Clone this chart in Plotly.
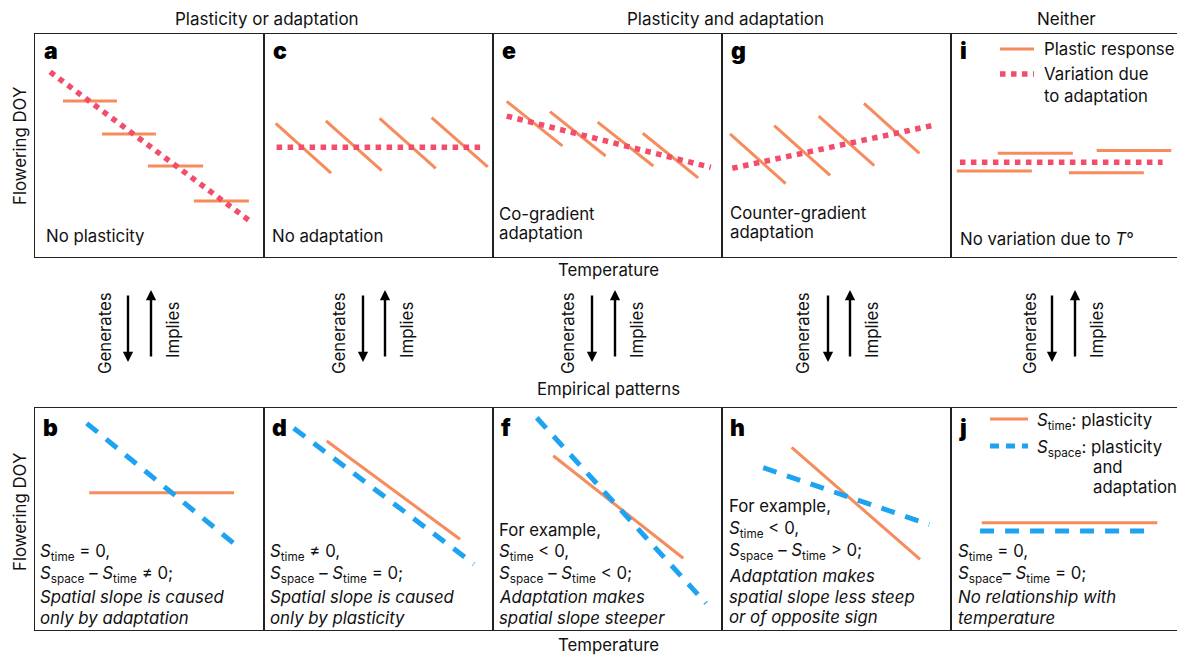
import plotly.graph_objects as go

# page body has an 8px margin: the figure is drawn 8px in from the window edge
OFF = 8
W, H = 1185 - OFF, 657 - OFF
ORANGE = "#F68B5B"
RED = "#F24D6B"
BLUE = "#1EA3F0"
FONT = "Inter"
FS = 16.8

# ---------------- data (panel units: temperature 0-100, flowering DOY 0-100) ----------------
# each segment: [T_start, DOY_start, T_end, DOY_end]
a_adapt = [[6.6, 83.0, 93.9, 16.1]]
a_plastic = [[12.2, 70.0, 35.8, 70.0], [29.3, 55.2, 52.8, 55.2],
             [49.3, 40.8, 73.4, 40.8], [69.4, 25.1, 93.4, 25.1]]
c_adapt = [[5.5, 49.2, 94.6, 49.2]]
c_plastic = [[5.1, 59.9, 29.3, 37.6], [27.0, 61.0, 51.4, 38.7],
             [50.5, 62.2, 75.0, 39.7], [73.2, 62.5, 97.7, 40.4]]
e_adapt = [[6.0, 63.2, 95.1, 40.2]]
e_plastic = [[6.0, 69.8, 30.3, 49.8], [24.9, 65.2, 49.2, 45.3],
             [45.7, 60.5, 70.0, 40.8], [65.4, 55.5, 89.6, 35.5]]
g_adapt = [[4.5, 39.8, 91.6, 58.9]]
g_plastic = [[3.5, 55.2, 27.8, 32.9], [22.8, 58.9, 47.2, 36.6],
             [42.2, 63.2, 66.5, 41.0], [62.0, 68.9, 86.2, 46.5]]
i_adapt = [[3.9, 42.5, 92.4, 42.5]]
i_plastic = [[2.5, 38.6, 35.3, 38.6], [20.4, 46.5, 53.2, 46.5],
             [51.5, 37.8, 84.2, 37.8], [63.6, 47.8, 96.2, 47.8]]

b_time = [[23.7, 61.8, 86.9, 61.8]]
b_space = [[22.6, 93.1, 89.8, 36.5]]
d_time = [[27.4, 85.1, 85.6, 40.9]]
d_space = [[13.0, 90.9, 91.7, 29.7]]
f_time = [[26.3, 78.5, 83.1, 32.3]]
f_space = [[19.1, 95.6, 93.0, 12.0]]
h_time = [[30.4, 82.3, 86.5, 31.8]]
h_space = [[18.0, 73.1, 90.5, 47.5]]
j_time = [[13.4, 48.3, 90.1, 48.3]]
j_space = [[12.7, 44.6, 87.6, 44.6]]

top_labels = ["a", "c", "e", "g", "i"]
bottom_labels = ["b", "d", "f", "h", "j"]
column_titles = ["Plasticity or adaptation", "Plasticity and adaptation", "Neither"]

top_adapt = [a_adapt, c_adapt, e_adapt, g_adapt, i_adapt]
top_plastic = [a_plastic, c_plastic, e_plastic, g_plastic, i_plastic]
bot_time = [b_time, d_time, f_time, h_time, j_time]
bot_space = [b_space, d_space, f_space, h_space, j_space]

top_captions = [["No plasticity"], ["No adaptation"], ["Co-gradient", "adaptation"],
                ["Counter-gradient", "adaptation"], ["No variation due to <i>T</i>°"]]
bot_captions = [
    ["<i>S</i><sub>time</sub> = 0,", "<i>S</i><sub>space</sub> – <i>S</i><sub>time</sub> ≠ 0;",
     "<i>Spatial slope is caused</i>", "<i>only by adaptation</i>"],
    ["<i>S</i><sub>time</sub> ≠ 0,", "<i>S</i><sub>space</sub> – <i>S</i><sub>time</sub> = 0;",
     "<i>Spatial slope is caused</i>", "<i>only by plasticity</i>"],
    ["For example,", "<i>S</i><sub>time</sub> < 0,", "<i>S</i><sub>space</sub> – <i>S</i><sub>time</sub> < 0;",
     "<i>Adaptation makes</i>", "<i>spatial slope steeper</i>"],
    ["For example,", "<i>S</i><sub>time</sub> < 0,", "<i>S</i><sub>space</sub> – <i>S</i><sub>time</sub> > 0;",
     "<i>Adaptation makes</i>", "<i>spatial slope less steep</i>", "<i>or of opposite sign</i>"],
    ["<i>S</i><sub>time</sub> = 0,", "<i>S</i><sub>space</sub>– <i>S</i><sub>time</sub> = 0;",
     "<i>No relationship with</i>", "<i>temperature</i>"],
]

# ---------------- layout geometry (window pixels) ----------------
COL_X = [35, 264, 493, 722, 951, 1180]
ROWS = [(34, 257), (408, 630)]


def px(x):
    return (x - OFF) / W


def py(y):
    return 1 - (y - OFF) / H


def seg_xy(segs):
    xs, ys = [], []
    for s in segs:
        xs += [s[0], s[2], None]
        ys += [s[1], s[3], None]
    return xs, ys


fig = go.Figure()
layout = {}
annotations = []
shapes = []

for r in range(2):
    for c in range(5):
        n = r * 5 + c + 1
        xa = "xaxis" if n == 1 else f"xaxis{n}"
        ya = "yaxis" if n == 1 else f"yaxis{n}"
        xr = "x" if n == 1 else f"x{n}"
        yr = "y" if n == 1 else f"y{n}"
        common = dict(range=[0, 100], showgrid=False, zeroline=False, showticklabels=False,
                      ticks="", showline=True, mirror=True, linecolor="#222", linewidth=1.4,
                      fixedrange=True)
        layout[xa] = dict(domain=[px(COL_X[c]), px(COL_X[c + 1])], anchor=yr, **common)
        layout[ya] = dict(domain=[py(ROWS[r][1]), py(ROWS[r][0])], anchor=xr, **common)
        if r == 0:
            x, y = seg_xy(top_plastic[c])
            fig.add_trace(go.Scatter(x=x, y=y, mode="lines", xaxis=xr, yaxis=yr,
                                     line=dict(color=ORANGE, width=3), hoverinfo="skip"))
            x, y = seg_xy(top_adapt[c])
            fig.add_trace(go.Scatter(x=x, y=y, mode="lines", xaxis=xr, yaxis=yr,
                                     line=dict(color=RED, width=5.5, dash="5.5px,5.5px"),
                                     hoverinfo="skip"))
        else:
            x, y = seg_xy(bot_time[c])
            fig.add_trace(go.Scatter(x=x, y=y, mode="lines", xaxis=xr, yaxis=yr,
                                     line=dict(color=ORANGE, width=3), hoverinfo="skip"))
            x, y = seg_xy(bot_space[c])
            fig.add_trace(go.Scatter(x=x, y=y, mode="lines", xaxis=xr, yaxis=yr,
                                     line=dict(color=BLUE, width=5, dash="14px,11px"),
                                     hoverinfo="skip"))


def text(x, y, t, size=FS, xanchor="left", angle=0, weight=None, family=FONT, color="#111"):
    f = dict(family=family, size=size, color=color)
    if weight:
        f["weight"] = weight
    annotations.append(dict(x=px(x), y=py(y), xref="paper", yref="paper", text=t,
                            showarrow=False, xanchor=xanchor, yanchor="middle",
                            textangle=angle, font=f))


# panel letters
for c in range(5):
    text(COL_X[c] + 7, 51, top_labels[c], size=23, weight=900, color="#000")
    text(COL_X[c] + 6, 428, bottom_labels[c], size=23, weight=900, color="#000")

# top captions
top_cap_pos = [(44, [236]), (270, [236]), (497, [214, 233]), (728, [213, 232]), (958, [239])]
for c in range(5):
    x0, ys = top_cap_pos[c]
    for t, yy in zip(top_captions[c], ys):
        text(x0, yy, t)

# bottom captions
bot_y = {4: [552, 574, 597, 618], 5: [530, 552, 574, 597, 618], 6: [506, 529, 551, 576, 597, 617]}
bot_x = [38, 268, 497, 727, 956]
for c in range(5):
    lines = bot_captions[c]
    for t, yy in zip(lines, bot_y[len(lines)]):
        text(bot_x[c], yy, t)

# column titles and axis titles
text(267, 19, column_titles[0], xanchor="center", size=17)
text(725, 19, column_titles[1], xanchor="center", size=17)
text(1066, 19, column_titles[2], xanchor="center", size=17)
text(608, 270, "Temperature", xanchor="center")
text(608, 389, "Empirical patterns", xanchor="center")
text(608, 645, "Temperature", xanchor="center")
text(20, 146, "Flowering DOY", xanchor="center", angle=-90)
text(20, 512, "Flowering DOY", xanchor="center", angle=-90)

# generates / implies arrows
arrow_cols = [(105, 128, 151, 173), (339, 363, 385, 407), (568, 592, 615, 637),
              (803, 828, 850, 872), (1030, 1052, 1075, 1097)]
for gx, dx, ux, ix in arrow_cols:
    text(gx, 333, "Generates", xanchor="center", angle=-90)
    text(ix, 330, "Implies", xanchor="center", angle=-90)
    annotations.append(dict(x=px(dx), y=py(362), xref="paper", yref="paper", text="",
                            showarrow=True, ax=0, ay=-68, arrowhead=2, arrowsize=0.85,
                            arrowwidth=2.4, arrowcolor="#000"))
    annotations.append(dict(x=px(ux), y=py(290), xref="paper", yref="paper", text="",
                            showarrow=True, ax=0, ay=68, arrowhead=2, arrowsize=0.85,
                            arrowwidth=2.4, arrowcolor="#000"))

# legend in panel i
shapes.append(dict(type="line", xref="paper", yref="paper", x0=px(1000), x1=px(1034),
                   y0=py(49), y1=py(49), line=dict(color=ORANGE, width=3)))
shapes.append(dict(type="line", xref="paper", yref="paper", x0=px(1000), x1=px(1034),
                   y0=py(74), y1=py(74), line=dict(color=RED, width=5.5, dash="5.5px,5.5px")))
text(1042, 49, "Plastic response")
text(1042, 74, "Variation due")
text(1042, 96, "to adaptation")

# legend in panel j
shapes.append(dict(type="line", xref="paper", yref="paper", x0=px(990), x1=px(1028),
                   y0=py(419), y1=py(419), line=dict(color=ORANGE, width=3)))
shapes.append(dict(type="line", xref="paper", yref="paper", x0=px(990), x1=px(1028),
                   y0=py(446), y1=py(446), line=dict(color=BLUE, width=5, dash="9px,7px")))
text(1035, 421, "<i>S</i><sub>time</sub>: plasticity")
text(1035, 448, "<i>S</i><sub>space</sub>: plasticity")
text(1091, 467, "and")
text(1091, 487, "adaptation")

fig.update_layout(
    width=W, height=H, margin=dict(l=0, r=0, t=0, b=0),
    paper_bgcolor="white", plot_bgcolor="white", showlegend=False,
    annotations=annotations, shapes=shapes, font=dict(family=FONT, size=FS),
    **layout,
)
fig.write_html("out.html")
